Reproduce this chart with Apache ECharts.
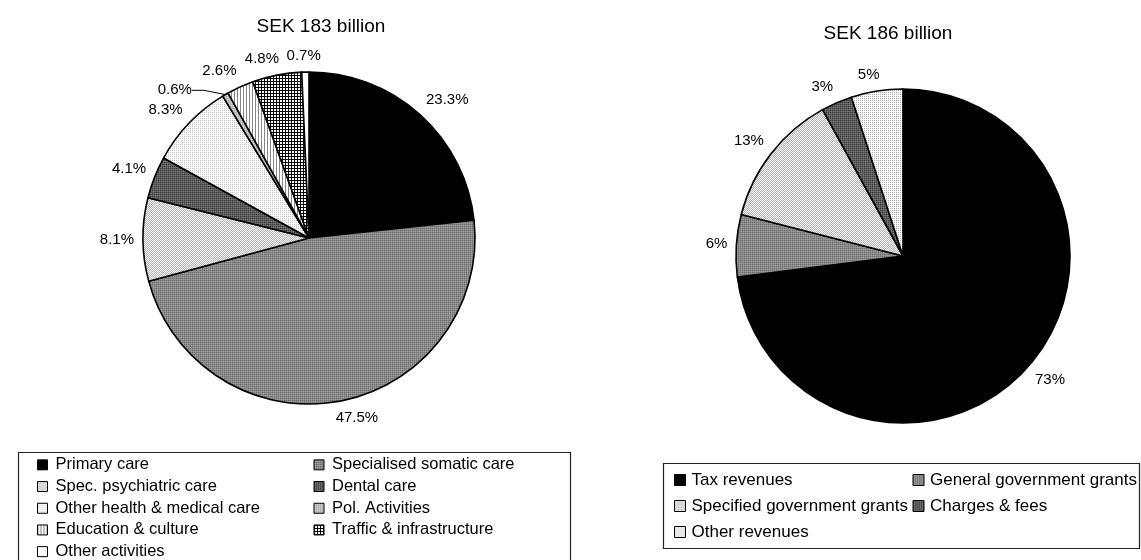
<!DOCTYPE html>
<html>
<head>
<meta charset="utf-8">
<script src="https://cdn.jsdelivr.net/npm/echarts@6/dist/echarts.min.js"></script>
<style>
  html, body { margin: 0; padding: 0; background: #ffffff; }
  #chart { width: 1141px; height: 560px; }
</style>
</head>
<body>
<div id="chart"></div>
<script>
// Municipal cost breakdown (per cent of total)
const costTitle = 'SEK 183 billion';
const costCategories = [
  'Primary care', 'Specialised somatic care', 'Spec. psychiatric care',
  'Dental care', 'Other health & medical care', 'Pol. Activities',
  'Education & culture', 'Traffic & infrastructure', 'Other activities'
];
const costShares = [23.3, 47.5, 8.1, 4.1, 8.3, 0.6, 2.6, 4.8, 0.7];

// Revenue breakdown (per cent of total)
const revenueTitle = 'SEK 186 billion';
const revenueCategories = [
  'Tax revenues', 'General government grants', 'Specified government grants',
  'Charges & fees', 'Other revenues'
];
const revenueShares = [73, 6, 13, 3, 5];

const FONT = '"Liberation Sans", Arial, Helvetica, sans-serif';

// Small repeating bitmap fills, in the style of monochrome office charts
function tile(w, h, pixels, base) {
  const c = document.createElement('canvas');
  c.width = w; c.height = h;
  const g = c.getContext('2d');
  g.fillStyle = base;
  g.fillRect(0, 0, w, h);
  pixels.forEach(([x, y, col]) => { g.fillStyle = col; g.fillRect(x, y, 1, 1); });
  return { image: c, repeat: 'repeat' };
}
const fills = {
  black: '#000000',
  midGrey: tile(2, 2, [[0, 0, '#6c6c6c'], [1, 1, '#9c9c9c']], '#8a8a8a'),
  lightDots: tile(2, 2, [[1, 0, '#b0b0b0'], [0, 1, '#b0b0b0']], '#ffffff'),
  darkGrey: tile(2, 2, [[0, 0, '#3a3a3a'], [1, 1, '#767676']], '#5e5e5e'),
  sparseDots: tile(2, 2, [[0, 0, '#c4c4c4']], '#ffffff'),
  paleGrey: tile(2, 2, [[0, 0, '#a8a8a8'], [1, 1, '#d0d0d0']], '#c0c0c0'),
  vLines: tile(3, 1, [[0, 0, '#858585']], '#ffffff'),
  grid: tile(3, 3, [[0, 0, '#000'], [1, 0, '#000'], [2, 0, '#000'], [0, 1, '#000'], [0, 2, '#000']], '#ffffff'),
  white: '#ffffff',
  whiteDots: tile(2, 2, [[0, 0, '#a8a8a8']], '#ffffff')
};
const costFills = [fills.black, fills.midGrey, fills.lightDots, fills.darkGrey,
  fills.sparseDots, fills.paleGrey, fills.vLines, fills.grid, fills.white];
const revenueFills = [fills.black, fills.midGrey, fills.lightDots, fills.darkGrey, fills.whiteDots];

// Pie geometry
const costPie = { cx: 309, cy: 238, r: 166 };
const revenuePie = { cx: 903, cy: 256, r: 167 };

// Outside labels: the box corner nearest the pie sits just beyond the rim,
// along the bisector of its slice. Crowded labels can be nudged aside.
function outsideLabels(pie, values, nudges) {
  const total = values.reduce((a, b) => a + b, 0);
  const starts = [];
  let acc = 0;
  values.forEach(v => { starts.push(acc); acc += v; });
  const pushX = v => Math.max(-1, Math.min(1, v * 4));
  const pushY = v => Math.max(-1, Math.min(1, v * 2));
  return function (p) {
    const i = p.dataIndex;
    const a = (starts[i] + values[i] / 2) / total * 2 * Math.PI;
    const dx = Math.sin(a), dy = -Math.cos(a);
    const w = p.labelRect.width, h = p.labelRect.height;
    let x = pie.cx + dx * (pie.r + 9) + pushX(dx) * w / 2;
    let y = pie.cy + dy * (pie.r + 9) + pushY(dy) * h / 2;
    const n = nudges[i];
    if (n) { x += n[0]; y += n[1]; }
    return { x: x, y: y, align: 'center', verticalAlign: 'middle' };
  };
}

function pieSeries(pie, names, values, fillList, digits, nudges, leaderIdx) {
  return {
    type: 'pie',
    center: [pie.cx, pie.cy],
    radius: pie.r,
    startAngle: 90,
    clockwise: true,
    avoidLabelOverlap: false,
    silent: true,
    animation: false,
    itemStyle: { borderColor: '#000', borderWidth: 1.6 },
    label: {
      show: true,
      position: 'outside',
      color: '#000',
      fontFamily: FONT,
      fontSize: 15,
      formatter: p => p.value.toFixed(digits) + '%'
    },
    labelLine: { show: false },
    labelLayout: outsideLabels(pie, values, nudges),
    data: names.map((name, i) => ({
      name: name,
      value: values[i],
      itemStyle: { color: fillList[i] },
      labelLine: leaderIdx.indexOf(i) >= 0
        ? { show: true, length: 8, length2: 12, lineStyle: { color: '#000', width: 1 } }
        : { show: false }
    }))
  };
}

function legendBlock(names, left, top, width, icon, textW, padL, rowH, fontSize) {
  return {
    data: names,
    left: left,
    top: top,
    width: width,
    padding: 0,
    itemGap: 0,
    itemWidth: icon,
    itemHeight: icon,
    icon: 'rect',
    selectedMode: false,
    itemStyle: { borderColor: '#000', borderWidth: 1 },
    textStyle: {
      color: '#000', fontFamily: FONT, fontSize: fontSize,
      width: textW, lineHeight: rowH, padding: [0, 0, 0, padL]
    }
  };
}

const chart = echarts.init(document.getElementById('chart'), null, { renderer: 'canvas' });
chart.setOption({
  backgroundColor: '#ffffff',
  animation: false,
  title: [
    { text: costTitle, left: 316, top: 12, textAlign: 'center',
      textStyle: { fontFamily: FONT, fontSize: 19, fontWeight: 'normal', color: '#000' } },
    { text: revenueTitle, left: 883, top: 19, textAlign: 'center',
      textStyle: { fontFamily: FONT, fontSize: 19, fontWeight: 'normal', color: '#000' } }
  ],
  legend: [
    legendBlock(costCategories, 37, 454, 560, 10, 258, 3, 21.7, 16.5),
    legendBlock(revenueCategories, 674, 467, 480, 11, 221, 1, 26, 17)
  ],
  graphic: [
    { type: 'rect', silent: true, z: -1,
      shape: { x: 18.5, y: 452.5, width: 552, height: 120 },
      style: { fill: 'none', stroke: '#222', lineWidth: 1.2 } },
    { type: 'rect', silent: true, z: -1,
      shape: { x: 663.5, y: 463.5, width: 476, height: 85 },
      style: { fill: 'none', stroke: '#222', lineWidth: 1.2 } }
  ],
  series: [
    pieSeries(costPie, costCategories, costShares, costFills, 1, { 5: [-29, 11] }, [5]),
    pieSeries(revenuePie, revenueCategories, revenueShares, revenueFills, 0, {}, [])
  ]
});
</script>
</body>
</html>
